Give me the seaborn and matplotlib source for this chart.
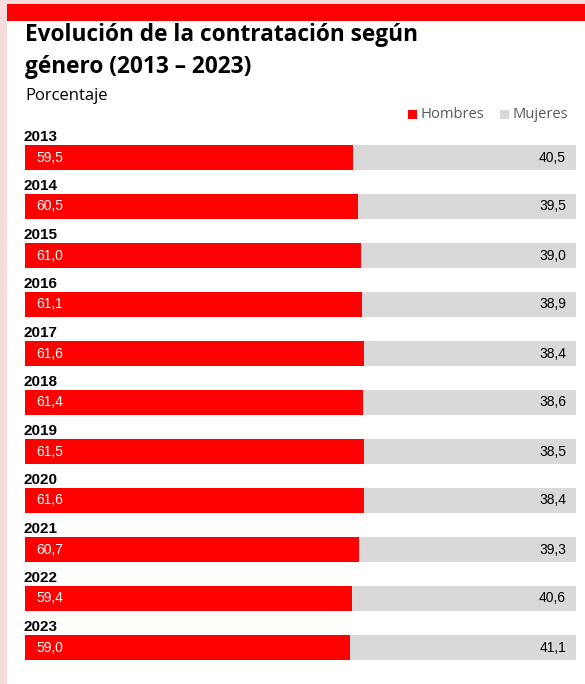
import pandas as pd
import numpy as np
import matplotlib
matplotlib.use("Agg")
import matplotlib.pyplot as plt
import seaborn as sns
from matplotlib.patches import Rectangle

sns.set_style("white")
plt.rcParams["font.family"] = ["Open Sans", "DejaVu Sans"]
plt.rcParams["text.color"] = "black"

# Data
years = ["2013", "2014", "2015", "2016", "2017", "2018", "2019", "2020", "2021", "2022", "2023"]
hombres = [59.5, 60.5, 61.0, 61.1, 61.6, 61.4, 61.5, 61.6, 60.7, 59.4, 59.0]
mujeres = [40.5, 39.5, 39.0, 38.9, 38.4, 38.6, 38.5, 38.4, 39.3, 40.6, 41.1]

df = pd.DataFrame({"year": years, "Hombres": hombres, "Mujeres": mujeres})
df["total"] = df["Hombres"] + df["Mujeres"]

RED = "#ff0000"
GREY = "#d9d9d9"

fig = plt.figure(figsize=(5.85, 6.84), dpi=100)
fig.patch.set_facecolor("#f6dcdc")

# white panel + red top band
fig.patches.append(Rectangle((7/585, 0), 1, 680/684, transform=fig.transFigure,
                             facecolor="white", edgecolor="none", zorder=-2))
fig.patches.append(Rectangle((7/585, 663/684), 1, 17/684, transform=fig.transFigure,
                             facecolor=RED, edgecolor="none", zorder=-1))

fig.text(25/585, 1 - 35/684, "Evolución de la contratación según", fontsize=16.3,
         fontweight="bold", va="center", ha="left")
fig.text(25/585, 1 - 67/684, "género (2013 – 2023)", fontsize=16.3,
         fontweight="bold", va="center", ha="left")
fig.text(25/585, 1 - 96/684, "Porcentaje", fontsize=12, va="center", ha="left")

ax = fig.add_axes([25/585, 12/684, 551/585, 539/684])
ax.set_zorder(5)
sns.barplot(data=df, y="year", x="total", color=GREY, width=0.51, ax=ax,
            orient="h", saturation=1, linewidth=0)
sns.barplot(data=df, y="year", x="Hombres", color=RED, width=0.51, ax=ax,
            orient="h", saturation=1, linewidth=0)

for i, (y, h, m) in enumerate(zip(years, hombres, mujeres)):
    ax.text(-0.2, i - 0.42, y, fontsize=11, fontweight="bold", va="center", ha="left",
            family=["Liberation Sans"])
    ax.text(2.0, i, f"{h:.1f}".replace(".", ","), color="white", fontsize=10,
            va="center", ha="left", family=["Liberation Sans"])
    ax.text(98.2, i, f"{m:.1f}".replace(".", ","), color="black", fontsize=10,
            va="center", ha="right", family=["Liberation Sans"])

ax.set_xlim(0, 100)
ax.set_ylim(10.5, -0.5)
ax.axis("off")

# legend
fig.patches.append(Rectangle((408/585, 1 - 119/684), 9/585, 9/684, transform=fig.transFigure,
                             facecolor=RED, edgecolor="none"))
fig.text(420/585, 1 - 114/684, "Hombres", fontsize=10.6, color="#595959", va="center", ha="left")
fig.patches.append(Rectangle((500/585, 1 - 119/684), 9/585, 9/684, transform=fig.transFigure,
                             facecolor=GREY, edgecolor="none"))
fig.text(512/585, 1 - 114/684, "Mujeres", fontsize=10.6, color="#595959", va="center", ha="left")

fig.savefig("out.png", dpi=100)
